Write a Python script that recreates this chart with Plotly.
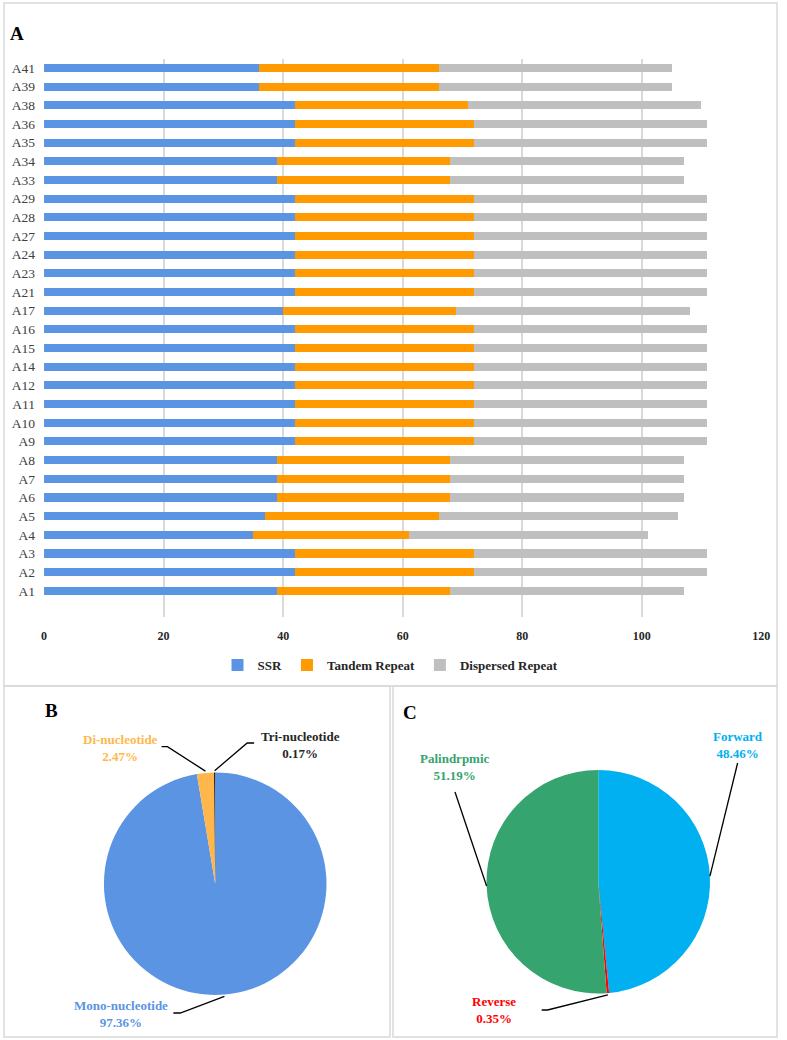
import math
import plotly.graph_objects as go

W, H = 787, 1040

# ---------------- data ----------------
samples = ["A1", "A2", "A3", "A4", "A5", "A6", "A7", "A8", "A9", "A10", "A11", "A12",
           "A14", "A15", "A16", "A17", "A21", "A23", "A24", "A27", "A28", "A29",
           "A33", "A34", "A35", "A36", "A38", "A39", "A41"]
ssr = [39, 42, 42, 35, 37, 39, 39, 39, 42, 42, 42, 42,
       42, 42, 42, 40, 42, 42, 42, 42, 42, 42,
       39, 39, 42, 42, 42, 36, 36]
tandem = [29, 30, 30, 26, 29, 29, 29, 29, 30, 30, 30, 30,
          30, 30, 30, 29, 30, 30, 30, 30, 30, 30,
          29, 29, 30, 30, 29, 30, 30]
dispersed = [39, 39, 39, 40, 40, 39, 39, 39, 39, 39, 39, 39,
             39, 39, 39, 39, 39, 39, 39, 39, 39, 39,
             39, 39, 39, 39, 39, 39, 39]
x_ticks = [0, 20, 40, 60, 80, 100, 120]

ssr_labels = ["Mono-nucleotide", "Di-nucleotide", "Tri-nucleotide"]
ssr_values = [97.36, 2.47, 0.17]
ssr_colors = ["#5B94E2", "#FFB74D", "#1A1A1A"]

rep_labels = ["Forward", "Reverse", "Palindrpmic"]
rep_values = [48.46, 0.35, 51.19]
rep_colors = ["#00B0F0", "#FF0000", "#35A46F"]

SERIF = "Liberation Serif, Times New Roman, serif"

def px(x):
    return x / W

def py(y):
    return 1 - y / H

fig = go.Figure()

bar_w = 0.43
for name, vals, col in [("SSR", ssr, "#5B94E2"),
                        ("Tandem Repeat", tandem, "#FF9A00"),
                        ("Dispersed Repeat", dispersed, "#BFBFBF")]:
    fig.add_trace(go.Bar(y=samples, x=vals, name=name, orientation="h",
                         marker=dict(color=col, line=dict(width=0)),
                         width=bar_w, xaxis="x", yaxis="y"))

# ---------------- pies ----------------
B_c, B_r = (215.5, 883.7), 113.0
C_c, C_r = (604.5, 881.7), 113.5

def dom(c, r):
    return dict(x=[px(c[0] - r), px(c[0] + r)], y=[py(c[1] + r), py(c[1] - r)])

fig.add_trace(go.Pie(labels=ssr_labels, values=ssr_values, sort=False,
                     direction="clockwise", rotation=0, textinfo="none",
                     marker=dict(colors=ssr_colors, line=dict(width=0)),
                     domain=dom(B_c, B_r), showlegend=False))
fig.add_trace(go.Pie(labels=rep_labels, values=rep_values, sort=False,
                     direction="clockwise", rotation=0, textinfo="none",
                     marker=dict(colors=rep_colors, line=dict(width=0)),
                     domain=dom(C_c, C_r), showlegend=False))

def mid_edge(values, i, c, r):
    tot = sum(values)
    cum = sum(values[:i]) + values[i] / 2
    th = 2 * math.pi * cum / tot
    return c[0] + r * math.sin(th), c[1] - r * math.cos(th)

shapes = []
# panel borders
border = dict(color="#D9D9D9", width=1.5)
for (x0, y0, x1, y1) in [(1, 3, 786, 686), (1, 686, 393, 1037), (396, 686, 786, 1037)]:
    shapes.append(dict(type="rect", xref="paper", yref="paper",
                       x0=px(x0), x1=px(x1), y0=py(y1), y1=py(y0),
                       line=border, fillcolor="rgba(0,0,0,0)", layer="below"))

def leader(points):
    path = "M " + " L ".join(f"{px(a)},{py(b)}" for a, b in points)
    shapes.append(dict(type="path", xref="paper", yref="paper", path=path,
                       line=dict(color="#000000", width=1.3)))

# B leaders
leader([(173, 1013), (180, 1013), mid_edge(ssr_values, 0, B_c, B_r)])
leader([(161, 746.7), (167, 746.7), mid_edge(ssr_values, 1, B_c, B_r)])
leader([(255, 743), (248, 743), mid_edge(ssr_values, 2, B_c, B_r)])
# C leaders
leader([(746, 763), mid_edge(rep_values, 0, C_c, C_r)])
leader([(547, 1010), (553, 1010), mid_edge(rep_values, 1, C_c, C_r)])
leader([(459, 792), mid_edge(rep_values, 2, C_c, C_r)])

annotations = []

def label(x, y, text, color, size=13, bold=True):
    t = f"<b>{text}</b>" if bold else text
    annotations.append(dict(x=px(x), y=py(y), xref="paper", yref="paper",
                            text=t, showarrow=False, xanchor="center", yanchor="middle",
                            font=dict(family=SERIF, size=size, color=color), align="center"))

label(14, 34, "A", "#000000", size=19)
label(49, 710, "B", "#000000", size=19)
label(413, 712, "C", "#000000", size=19)

label(120, 1014, f"{ssr_labels[0]}<br>{ssr_values[0]:.2f}%", ssr_colors[0])
label(119, 748, f"{ssr_labels[1]}<br>{ssr_values[1]:.2f}%", "#FFB74D")
label(302, 745, f"{ssr_labels[2]}<br>{ssr_values[2]:.2f}%", "#262626")

label(746, 745, f"{rep_labels[0]}<br>{rep_values[0]:.2f}%", rep_colors[0])
label(499, 1010, f"{rep_labels[1]}<br>{rep_values[1]:.2f}%", rep_colors[1])
label(459, 767, f"{rep_labels[2]}<br>{rep_values[2]:.2f}%", rep_colors[2])

fig.update_layout(
    width=W, height=H,
    margin=dict(l=0, r=0, t=0, b=0),
    paper_bgcolor="white", plot_bgcolor="white",
    barmode="stack",
    bargap=0.57,
    font=dict(family=SERIF, color="#404040"),
    xaxis=dict(domain=[px(41.7), px(770)], range=[0, 120], tickvals=x_ticks,
               showgrid=True, gridcolor="#D9D9D9", gridwidth=1.5,
               zeroline=False, showline=False, ticks="",
               tickfont=dict(family=SERIF, size=12, color="#262626", weight="bold"),
               ticklabelstandoff=10, anchor="y", fixedrange=True),
    yaxis=dict(domain=[py(617), py(59)], range=[-1.4, 28.48], type="category",
               categoryorder="array", categoryarray=samples,
               showgrid=False, zeroline=False, showline=False, ticks="",
               tickfont=dict(family=SERIF, size=13.5, color="#404040"),
               ticklabelstandoff=8, anchor="x", fixedrange=True),
    legend=dict(orientation="h", x=0.5, xanchor="center", y=py(665), yanchor="middle",
                font=dict(family=SERIF, size=13, color="#262626", weight="bold"),
                itemwidth=30, traceorder="normal", bgcolor="rgba(0,0,0,0)"),
    shapes=shapes,
    annotations=annotations,
)

fig.write_html("out.html", config={"displayModeBar": False},
               post_script="document.body.style.margin='0';document.body.style.padding='0';")
